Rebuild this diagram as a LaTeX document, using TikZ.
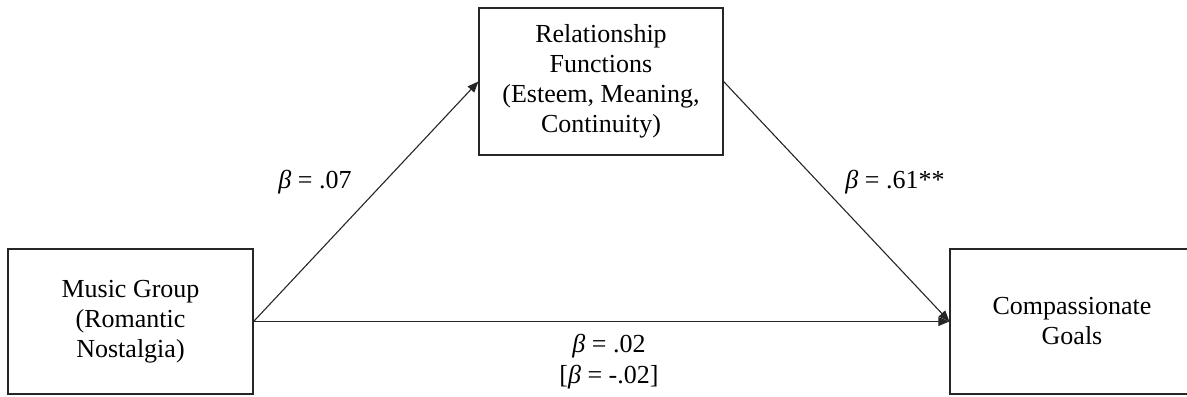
\documentclass[tikz,border=0pt]{standalone}
\usepackage{fontspec}
\setmainfont{Liberation Serif}
\usetikzlibrary{arrows.meta}
\tikzset{
  box/.style={draw=black!85, line width=0.6pt, inner sep=0pt, align=center,
    font=\fontsize{13}{15}\selectfont},
  lbl/.style={inner sep=0pt, font=\fontsize{13}{15}\selectfont},
  path/.style={draw=black!85, line width=0.55pt, -{Triangle[length=5.5pt,width=4.4pt]}}
}
\begin{document}
\begin{tikzpicture}[x=0.5pt,y=-0.5pt]
\useasboundingbox (0,0) rectangle (1187,396);
\node[box, minimum width=122.5pt, minimum height=72.5pt] (L) at (130.5,321.5)
  {Music Group\\(Romantic\\Nostalgia)};
\node[box, minimum width=122pt, minimum height=73.5pt] (T) at (601,81.5)
  {Relationship\\Functions\\(Esteem, Meaning,\\Continuity)};
\node[box, minimum width=122pt, minimum height=72.5pt] (R) at (1072,321.5)
  {Compassionate\\Goals};
\draw[path] (L.east) -- (T.west);
\draw[path] (T.east) -- (R.west);
\draw[path] (L.east) -- (R.west);
\node[lbl, anchor=base] (a) at (315,188) {\textit{β} = .07};
\node[lbl, anchor=base] (b) at (895,188) {\textit{β} = .61**};
\node[lbl, anchor=base] (c) at (609,352) {\textit{β} = .02};
\node[lbl, anchor=base] (c2) at (609,383) {[\textit{β} = -.02]};
\end{tikzpicture}
\end{document}
